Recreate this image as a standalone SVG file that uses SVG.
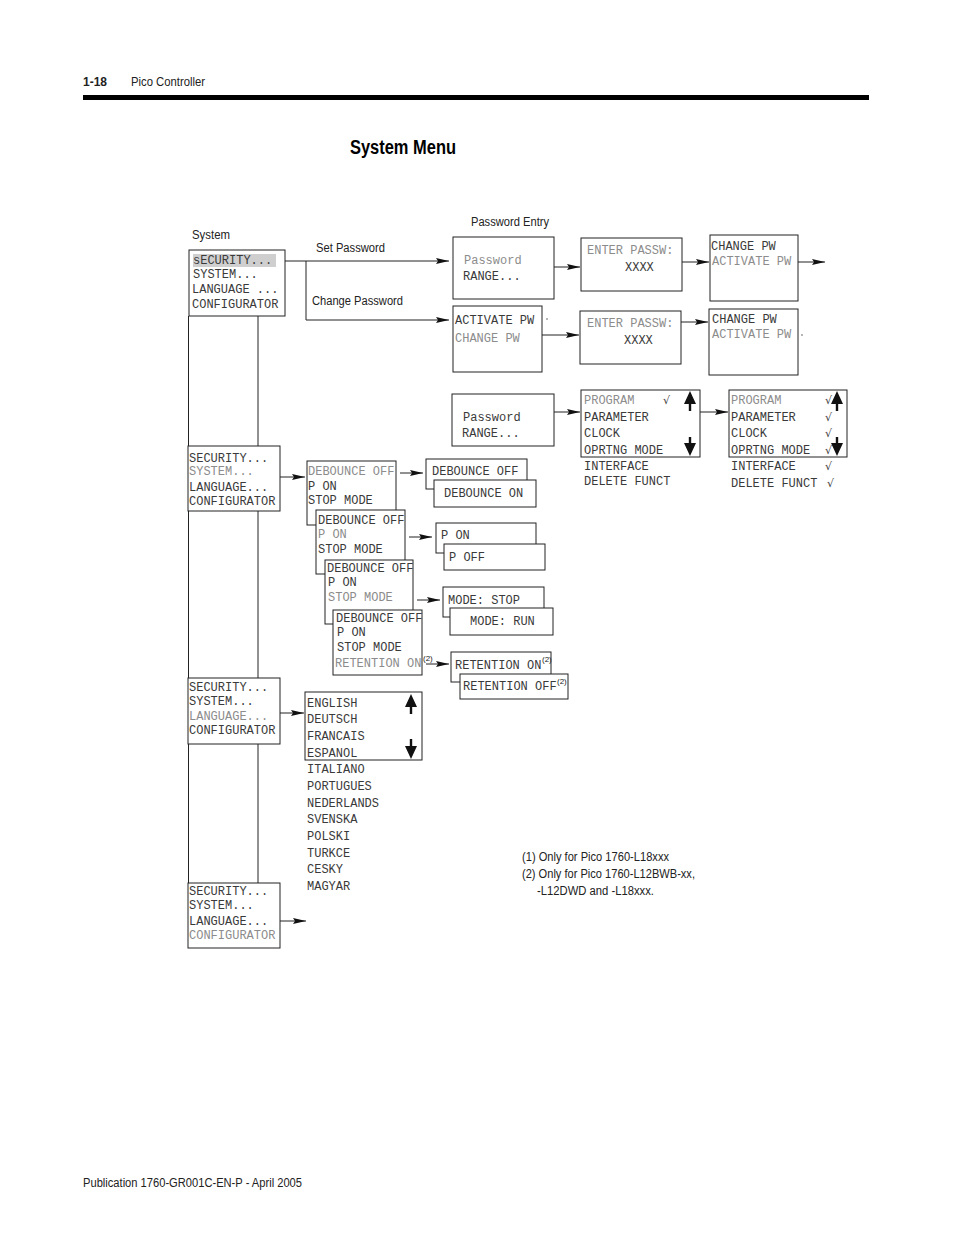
<svg xmlns="http://www.w3.org/2000/svg" width="954" height="1235" viewBox="0 0 954 1235">
<defs>
<marker id="ah" viewBox="0 0 13 6" refX="13" refY="3" markerWidth="13" markerHeight="6" markerUnits="userSpaceOnUse" orient="auto">
<path d="M0,0 L13,3 L0,6 L2,3 z" fill="#111"/>
</marker>
<style>
.bx{fill:#fff;stroke:#222;stroke-width:1}
.m{font-family:"Liberation Mono","DejaVu Sans Mono",monospace;font-size:12px;fill:#3a3a3a}
.g{fill:#8c8c8c}
.lb{font-family:"Liberation Sans",Arial,sans-serif;font-size:12.5px;fill:#222}
.sup{font-family:"Liberation Sans",Arial,sans-serif;font-size:8px;fill:#222}
.ln{fill:none;stroke:#222;stroke-width:1}
.ar{fill:none;stroke:#222;stroke-width:1;marker-end:url(#ah)}
.ck{font-family:"DejaVu Sans",sans-serif;font-size:11px;fill:#444}
.ud{fill:#111}
</style>
</defs>
<rect width="954" height="1235" fill="#fff"/>

<g id="header">
<text x="83" y="86" class="lb" font-weight="bold" textLength="24" lengthAdjust="spacingAndGlyphs">1-18</text>
<text x="131" y="86" class="lb" textLength="74" lengthAdjust="spacingAndGlyphs">Pico Controller</text>
<rect x="83" y="95" width="786" height="5" fill="#000"/>
<text x="350" y="154" font-family="Liberation Sans,Arial,sans-serif" font-size="20" font-weight="bold" fill="#000" textLength="106" lengthAdjust="spacingAndGlyphs">System Menu</text>
</g>

<g id="labels">
<text x="192" y="239" class="lb" textLength="38" lengthAdjust="spacingAndGlyphs">System</text>
<text x="316" y="252" class="lb" textLength="69" lengthAdjust="spacingAndGlyphs">Set Password</text>
<text x="312" y="305" class="lb" textLength="91" lengthAdjust="spacingAndGlyphs">Change Password</text>
<text x="471" y="226" class="lb" textLength="78" lengthAdjust="spacingAndGlyphs">Password Entry</text>
</g>

<g id="connectors">
<path class="ln" d="M188.5,316 V883"/>
<path class="ln" d="M258,316 V446 M258,511 V678 M258,744 V883"/>
<path class="ar" d="M285,261 H449"/>
<path class="ar" d="M306,261 V320 H449"/>
<path class="ar" d="M554,267 H580"/>
<path class="ar" d="M682,262 H709"/>
<path class="ar" d="M798,262 H825"/>
<path class="ar" d="M542,335 H579"/>
<path class="ar" d="M681,322 H708"/>
<path class="ar" d="M554,412 H580"/>
<path class="ar" d="M700,412 H728"/>
<path class="ar" d="M280,477 H305"/>
<path class="ar" d="M400,473 H423"/>
<path class="ar" d="M409,537 H432"/>
<path class="ar" d="M417,600 H440"/>
<path class="ar" d="M426,664 H449"/>
<path class="ar" d="M280,713 H304"/>
<path class="ar" d="M280,921 H306"/>
</g>

<g id="sys1">
<rect class="bx" x="189" y="250" width="96" height="66"/>
<rect x="193" y="254" width="83" height="13" fill="#cfcfcf"/>
<text class="m" x="193" y="264" fill="#555">sECURITY...</text>
<text class="m" x="193" y="278">SYSTEM...</text>
<text class="m" x="192" y="293">LANGUAGE ...</text>
<text class="m" x="192" y="308">CONFIGURATOR</text>
</g>

<g id="sys2">
<rect class="bx" x="188" y="446" width="92" height="65"/>
<text class="m" x="189" y="462">SECURITY...</text>
<text class="m g" x="189" y="475">SYSTEM...</text>
<text class="m" x="189" y="491">LANGUAGE...</text>
<text class="m" x="189" y="505">CONFIGURATOR</text>
</g>

<g id="sys3">
<rect class="bx" x="188" y="678" width="92" height="66"/>
<text class="m" x="189" y="691">SECURITY...</text>
<text class="m" x="189" y="705">SYSTEM...</text>
<text class="m g" x="189" y="720">LANGUAGE...</text>
<text class="m" x="189" y="734">CONFIGURATOR</text>
</g>

<g id="sys4">
<rect class="bx" x="188" y="883" width="92" height="65"/>
<text class="m" x="189" y="895">SECURITY...</text>
<text class="m" x="189" y="909">SYSTEM...</text>
<text class="m" x="189" y="925">LANGUAGE...</text>
<text class="m g" x="189" y="939">CONFIGURATOR</text>
</g>

<g id="pw1">
<rect class="bx" x="453" y="237" width="101" height="62"/>
<text class="m g" x="464" y="264">Password</text>
<text class="m" x="463" y="280">RANGE...</text>
</g>
<g id="enter1">
<rect class="bx" x="581" y="238" width="101" height="53"/>
<text class="m g" x="587" y="254">ENTER PASSW:</text>
<text class="m" x="625" y="271">XXXX</text>
</g>
<g id="change1">
<rect class="bx" x="710" y="235" width="88" height="66"/>
<text class="m" x="711" y="250">CHANGE PW</text>
<text class="m g" x="712" y="265">ACTIVATE PW</text>
</g>

<g id="activate2">
<rect class="bx" x="453" y="306" width="89" height="66"/>
<text class="m" x="455" y="324">ACTIVATE PW</text>
<text class="m g" x="455" y="342">CHANGE PW</text>
<circle cx="547" cy="319" r="0.7" fill="#333"/>
</g>
<g id="enter2">
<rect class="bx" x="580" y="311" width="101" height="53"/>
<text class="m g" x="587" y="327">ENTER PASSW:</text>
<text class="m" x="624" y="344">XXXX</text>
</g>
<g id="change2">
<rect class="bx" x="709" y="309" width="89" height="66"/>
<text class="m" x="712" y="323">CHANGE PW</text>
<text class="m g" x="712" y="338">ACTIVATE PW</text>
<circle cx="802" cy="335" r="0.7" fill="#333"/>
</g>

<g id="pw3">
<rect class="bx" x="452" y="394" width="102" height="52"/>
<text class="m" x="463" y="421">Password</text>
<text class="m" x="462" y="437">RANGE...</text>
</g>

<g id="range1">
<rect class="bx" x="581" y="390" width="119" height="67"/>
<text class="m g" x="584" y="404">PROGRAM</text>
<text class="ck" x="663" y="404">√</text>
<text class="m" x="584" y="421">PARAMETER</text>
<text class="m" x="584" y="437">CLOCK</text>
<text class="m" x="584" y="454">OPRTNG MODE</text>
<text class="m" x="584" y="470">INTERFACE</text>
<text class="m" x="584" y="485">DELETE FUNCT</text>
<path class="ud" d="M684,404 L690,391 L696,404 L691.2,404 L691.2,411 L688.8,411 L688.8,404 z"/>
<path class="ud" d="M684,443 L690,456 L696,443 L691.2,443 L691.2,437 L688.8,437 L688.8,443 z"/>
</g>

<g id="range2">
<rect class="bx" x="729" y="390" width="118" height="67"/>
<text class="m g" x="731" y="404">PROGRAM</text>
<text class="m" x="731" y="421">PARAMETER</text>
<text class="m" x="731" y="437">CLOCK</text>
<text class="m" x="731" y="454">OPRTNG MODE</text>
<text class="m" x="731" y="470">INTERFACE</text>
<text class="m" x="731" y="487">DELETE FUNCT</text>
<text class="ck" x="825" y="404">√</text>
<text class="ck" x="825" y="421">√</text>
<text class="ck" x="825" y="437">√</text>
<text class="ck" x="825" y="454">√</text>
<text class="ck" x="825" y="470">√</text>
<text class="ck" x="827" y="487">√</text>
<path class="ud" d="M831,404 L837,391 L843,404 L838.2,404 L838.2,411 L835.8,411 L835.8,404 z"/>
<path class="ud" d="M831,443 L837,456 L843,443 L838.2,443 L838.2,437 L835.8,437 L835.8,443 z"/>
</g>

<g id="deb1">
<rect class="bx" x="307" y="461" width="89" height="64"/>
<text class="m g" x="308" y="475">DEBOUNCE OFF</text>
<text class="m" x="308" y="490">P ON</text>
<text class="m" x="308" y="504">STOP MODE</text>
</g>
<g id="deb-opts">
<rect class="bx" x="426" y="459" width="101" height="30"/>
<text class="m" x="432" y="475">DEBOUNCE OFF</text>
<rect class="bx" x="434" y="480" width="102" height="27"/>
<text class="m" x="444" y="497">DEBOUNCE ON</text>
</g>
<g id="deb2">
<rect class="bx" x="316" y="510" width="89" height="64"/>
<text class="m" x="318" y="524">DEBOUNCE OFF</text>
<text class="m g" x="318" y="538">P ON</text>
<text class="m" x="318" y="553">STOP MODE</text>
</g>
<g id="pon-opts">
<rect class="bx" x="436" y="523" width="100" height="30"/>
<text class="m" x="441" y="539">P ON</text>
<rect class="bx" x="444" y="544" width="101" height="26"/>
<text class="m" x="449" y="561">P OFF</text>
</g>
<g id="deb3">
<rect class="bx" x="325" y="560" width="88" height="64"/>
<text class="m" x="327" y="572">DEBOUNCE OFF</text>
<text class="m" x="328" y="586">P ON</text>
<text class="m g" x="328" y="601">STOP MODE</text>
</g>
<g id="mode-opts">
<rect class="bx" x="443" y="587" width="101" height="30"/>
<text class="m" x="448" y="604">MODE: STOP</text>
<rect class="bx" x="450" y="608" width="103" height="27"/>
<text class="m" x="470" y="625">MODE: RUN</text>
</g>
<g id="deb4">
<rect class="bx" x="333" y="610" width="89" height="65"/>
<text class="m" x="336" y="622">DEBOUNCE OFF</text>
<text class="m" x="337" y="636">P ON</text>
<text class="m" x="337" y="651">STOP MODE</text>
<text class="m g" x="335" y="667">RETENTION ON</text>
<text class="sup" x="423" y="661">(2)</text>
</g>
<g id="ret-opts">
<rect class="bx" x="451" y="652" width="100" height="30"/>
<text class="m" x="455" y="669">RETENTION ON</text>
<text class="sup" x="542" y="662">(2)</text>
<rect class="bx" x="460" y="674" width="108" height="25"/>
<text class="m" x="463" y="690">RETENTION OFF</text>
<text class="sup" x="557" y="684">(2)</text>
</g>

<g id="language">
<rect class="bx" x="305" y="692" width="117" height="68"/>
<text class="m" x="307" y="707">ENGLISH</text>
<text class="m" x="307" y="723">DEUTSCH</text>
<text class="m" x="307" y="740">FRANCAIS</text>
<text class="m" x="307" y="757">ESPANOL</text>
<text class="m" x="307" y="773">ITALIANO</text>
<text class="m" x="307" y="790">PORTUGUES</text>
<text class="m" x="307" y="807">NEDERLANDS</text>
<text class="m" x="307" y="823">SVENSKA</text>
<text class="m" x="307" y="840">POLSKI</text>
<text class="m" x="307" y="857">TURKCE</text>
<text class="m" x="307" y="873">CESKY</text>
<text class="m" x="307" y="890">MAGYAR</text>
<path class="ud" d="M405,707 L411,694 L417,707 L412.2,707 L412.2,714 L409.8,714 L409.8,707 z"/>
<path class="ud" d="M405,746 L411,759 L417,746 L412.2,746 L412.2,739 L409.8,739 L409.8,746 z"/>
</g>

<g id="footnotes">
<text x="522" y="861" class="lb" textLength="147" lengthAdjust="spacingAndGlyphs">(1) Only for Pico 1760-L18xxx</text>
<text x="522" y="878" class="lb" textLength="173" lengthAdjust="spacingAndGlyphs">(2) Only for Pico 1760-L12BWB-xx,</text>
<text x="537" y="895" class="lb" textLength="117" lengthAdjust="spacingAndGlyphs">-L12DWD and -L18xxx.</text>
</g>

<g id="footer">
<text x="83" y="1187" class="lb" textLength="219" lengthAdjust="spacingAndGlyphs">Publication 1760-GR001C-EN-P - April 2005</text>
</g>
</svg>
